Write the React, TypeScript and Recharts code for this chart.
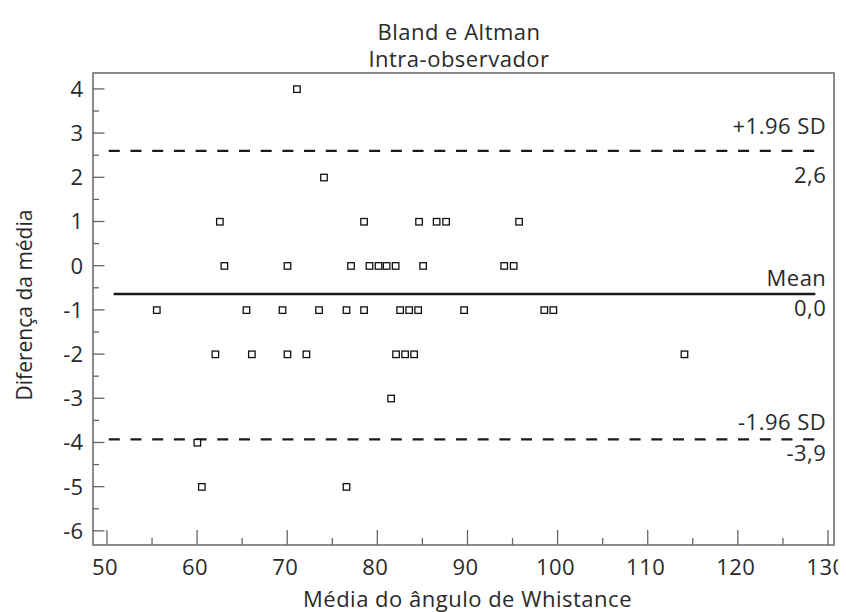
import React from "react";
import { ScatterChart, Scatter, XAxis, YAxis, ReferenceLine, ReferenceArea } from "recharts";

const meanAngle = [
  71.05, 74.05,
  62.5, 78.5, 84.6, 86.55, 87.6, 95.7,
  63.0, 70.0, 77.05, 79.1, 80.1, 81.0, 82.0, 85.05, 94.05, 95.1,
  55.5, 65.45, 69.45, 73.5, 76.55, 78.5, 82.5, 83.5, 84.5, 89.6, 98.5, 99.5,
  62.0, 66.05, 70.0, 72.1, 82.05, 83.05, 84.05, 114.05,
  81.5,
  60.0,
  60.5, 76.55,
];
const difference = [
  4, 2,
  1, 1, 1, 1, 1, 1,
  0, 0, 0, 0, 0, 0, 0, 0, 0, 0,
  -1, -1, -1, -1, -1, -1, -1, -1, -1, -1, -1, -1,
  -2, -2, -2, -2, -2, -2, -2, -2,
  -3,
  -4,
  -5, -5,
];

const xTicks = [50, 55, 60, 65, 70, 75, 80, 85, 90, 95, 100, 105, 110, 115, 120, 125, 130];
const yTicks = [-6, -5.5, -5, -4.5, -4, -3.5, -3, -2.5, -2, -1.5, -1, -0.5, 0, 0.5, 1, 1.5, 2, 2.5, 3, 3.5, 4];
const xDomain = [48.45, 130.67];
const yDomain = [-6.32, 4.36];

const meanDiff = -0.64;
const upperLimit = 2.6;
const lowerLimit = -3.93;
const limitLines = [
  { value: upperLimit, top: "+1.96 SD", bottom: "2,6", dashed: true, above: 17, below: 32 },
  { value: meanDiff, top: "Mean", bottom: "0,0", dashed: false, above: 8, below: 22 },
  { value: lowerLimit, top: "-1.96 SD", bottom: "-3,9", dashed: true, above: 9, below: 22 },
];
const lineStart = 50.2;
const lineEnd = 128.6;

const points = meanAngle.map((m, i) => ({ x: m, y: difference[i] }));

const FONT = "'Open Sans', Lato, sans-serif";
const TEXT = "#2a2a2a";
const AXIS = "#666";
const FS = 22;
const LS = 0.5;

const XTick = (props: any) => {
  const { x, y, payload } = props;
  const major = payload.value % 10 === 0;
  return (
    <g>
      <line x1={x} x2={x} y1={y} y2={y - (major ? 15 : 7)} stroke={AXIS} strokeWidth={1.3} />
      {major && (
        <text x={x - 2} y={y + 30} textAnchor="middle" fontFamily={FONT} fontSize={FS} letterSpacing={LS} fill={TEXT}>
          {payload.value}
        </text>
      )}
    </g>
  );
};

const YTick = (props: any) => {
  const { x, y, payload } = props;
  const major = Number.isInteger(payload.value);
  return (
    <g>
      <line x1={x} x2={x + (major ? 11.5 : 6)} y1={y} y2={y} stroke={AXIS} strokeWidth={1.3} />
      {major && (
        <text x={x - 10} y={y + 8} textAnchor="end" fontFamily={FONT} fontSize={FS} fill={TEXT}>
          {payload.value}
        </text>
      )}
    </g>
  );
};

const Square = (props: any) => {
  const { cx, cy } = props;
  if (cx == null || cy == null) return null;
  return <rect x={cx - 3} y={cy - 3} width={6.5} height={6.5} fill="#fff" stroke="#111" strokeWidth={1.3} />;
};

const makeLineLabel = (top: string, bottom: string, above: number, below: number) => (props: any) => {
  const vb = props.viewBox || {};
  const xr = (vb.x || 0) + (vb.width || 0) + 11;
  const y = vb.y || 0;
  return (
    <g>
      <text x={xr} y={y - above} textAnchor="end" fontFamily={FONT} fontSize={FS} letterSpacing={LS} fill={TEXT}>
        {top}
      </text>
      <text x={xr} y={y + below} textAnchor="end" fontFamily={FONT} fontSize={FS} letterSpacing={LS} fill={TEXT}>
        {bottom}
      </text>
    </g>
  );
};

const XLabel = (props: any) => {
  const vb = props.viewBox || {};
  return (
    <text x={vb.x + vb.width / 2 + 4} y={vb.y + 62} textAnchor="middle" fontFamily={FONT} fontSize={FS} letterSpacing={LS} fill={TEXT}>
      Média do ângulo de Whistance
    </text>
  );
};

const YLabel = (props: any) => {
  const vb = props.viewBox || {};
  const cx = 16;
  const cy = vb.y + vb.height / 2 - 4;
  return (
    <text x={cx} y={cy} transform={`rotate(-90, ${cx}, ${cy})`} textAnchor="middle" dominantBaseline="central" fontFamily={FONT} fontSize={21} fill={TEXT}>
      Diferença da média
    </text>
  );
};

export default function App() {
  return (
    <div style={{ position: "relative", width: 838, height: 604, fontFamily: FONT }}>
      <div style={{ position: "absolute", left: 0, width: 902, top: 9, textAlign: "center", fontSize: FS, letterSpacing: LS, color: TEXT, lineHeight: "28px" }}>
        Bland e Altman
      </div>
      <div style={{ position: "absolute", left: 0, width: 902, top: 36, textAlign: "center", fontSize: FS, letterSpacing: LS, color: TEXT, lineHeight: "28px" }}>
        Intra-observador
      </div>
      <ScatterChart width={838} height={604} margin={{ top: 65, right: 12, bottom: 0, left: 0 }}>
        <XAxis
          type="number"
          dataKey="x"
          domain={xDomain}
          ticks={xTicks}
          interval={0}
          allowDataOverflow
          axisLine={false}
          tickLine={false}
          tickSize={0}
          tickMargin={0}
          height={67}
          tick={<XTick />}
          label={<XLabel />}
        />
        <YAxis
          type="number"
          dataKey="y"
          domain={yDomain}
          ticks={yTicks}
          interval={0}
          allowDataOverflow
          axisLine={false}
          tickLine={false}
          tickSize={0}
          tickMargin={0}
          width={85}
          tick={<YTick />}
          label={<YLabel />}
        />
        <ReferenceArea
          x1={xDomain[0]}
          x2={xDomain[1]}
          y1={yDomain[0]}
          y2={yDomain[1]}
          fill="none"
          fillOpacity={0}
          stroke={AXIS}
          strokeWidth={1.5}
          ifOverflow="visible"
        />
        {limitLines.map((l) => (
          <ReferenceLine
            key={l.top}
            segment={[
              { x: l.dashed ? lineStart : lineStart + 0.55, y: l.value },
              { x: lineEnd, y: l.value },
            ]}
            stroke="#1a1a1a"
            strokeWidth={l.dashed ? 2.2 : 2.6}
            strokeDasharray={l.dashed ? "11 10.7" : undefined}
            ifOverflow="visible"
            label={makeLineLabel(l.top, l.bottom, l.above, l.below)}
          />
        ))}
        <Scatter data={points} shape={<Square />} isAnimationActive={false} />
      </ScatterChart>
    </div>
  );
}
